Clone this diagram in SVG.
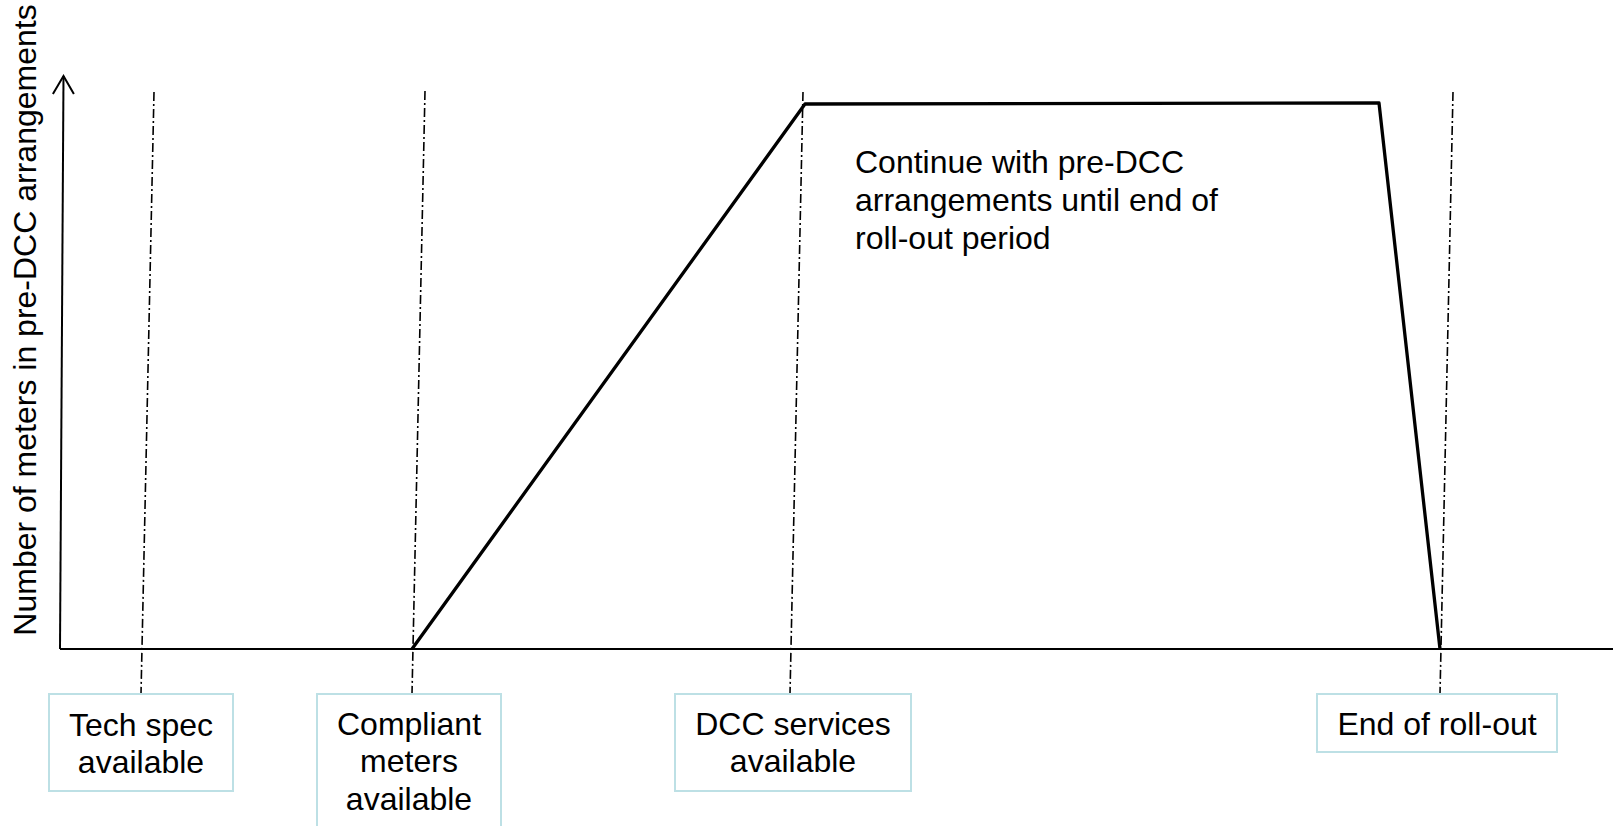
<svg xmlns="http://www.w3.org/2000/svg" width="1613" height="826" viewBox="0 0 1613 826">
<style>
text{font-family:"Liberation Sans",Arial,sans-serif;font-size:32px;fill:#000}
.box{fill:#fff;stroke:#bde0e5;stroke-width:2}
.guide{stroke:#000;stroke-width:1.6;stroke-dasharray:9,3,2,3;fill:none}
.axis{stroke:#000;stroke-width:2;fill:none}
.curve{stroke:#000;stroke-width:3.3;fill:none;stroke-linejoin:round}
</style>
<defs>
<marker id="open" viewBox="0 0 24 24" refX="21" refY="12" markerWidth="24" markerHeight="24" markerUnits="userSpaceOnUse" orient="auto">
<polyline points="3,1.5 21,12 3,22.5" fill="none" stroke="#000" stroke-width="2"/>
</marker>
</defs>
<rect width="1613" height="826" fill="#fff"/>
<g id="connectors">
<line class="guide" x1="154" y1="92" x2="141" y2="694"/>
<line class="guide" x1="425" y1="91" x2="412" y2="694"/>
<line class="guide" x1="803" y1="92" x2="790" y2="694"/>
<line class="guide" x1="1453" y1="92" x2="1440" y2="694"/>
</g>
<g id="axes">
<line class="axis" x1="60" y1="649" x2="1613" y2="649"/>
<line class="axis" x1="60" y1="649" x2="63.5" y2="76" marker-end="url(#open)"/>
<text transform="translate(36,320) rotate(-90)" text-anchor="middle">Number of meters in pre-DCC arrangements</text>
</g>
<g id="curve">
<polyline class="curve" points="412,649 805,104 1379,103 1440,649"/>
</g>
<g id="note">
<text x="855" y="173">Continue with pre-DCC</text>
<text x="855" y="211">arrangements until end of</text>
<text x="855" y="249">roll-out period</text>
</g>
<g id="tech-spec">
<rect class="box" x="49" y="694" width="184" height="97"/>
<text x="141" y="736" text-anchor="middle">Tech spec</text>
<text x="141" y="773" text-anchor="middle">available</text>
</g>
<g id="compliant-meters">
<rect class="box" x="317" y="694" width="184" height="140"/>
<text x="409" y="735" text-anchor="middle">Compliant</text>
<text x="409" y="772" text-anchor="middle">meters</text>
<text x="409" y="810" text-anchor="middle">available</text>
</g>
<g id="dcc-services">
<rect class="box" x="675" y="694" width="236" height="97"/>
<text x="793" y="735" text-anchor="middle">DCC services</text>
<text x="793" y="772" text-anchor="middle">available</text>
</g>
<g id="end-rollout">
<rect class="box" x="1317" y="694" width="240" height="58"/>
<text x="1437" y="735" text-anchor="middle">End of roll-out</text>
</g>
</svg>
